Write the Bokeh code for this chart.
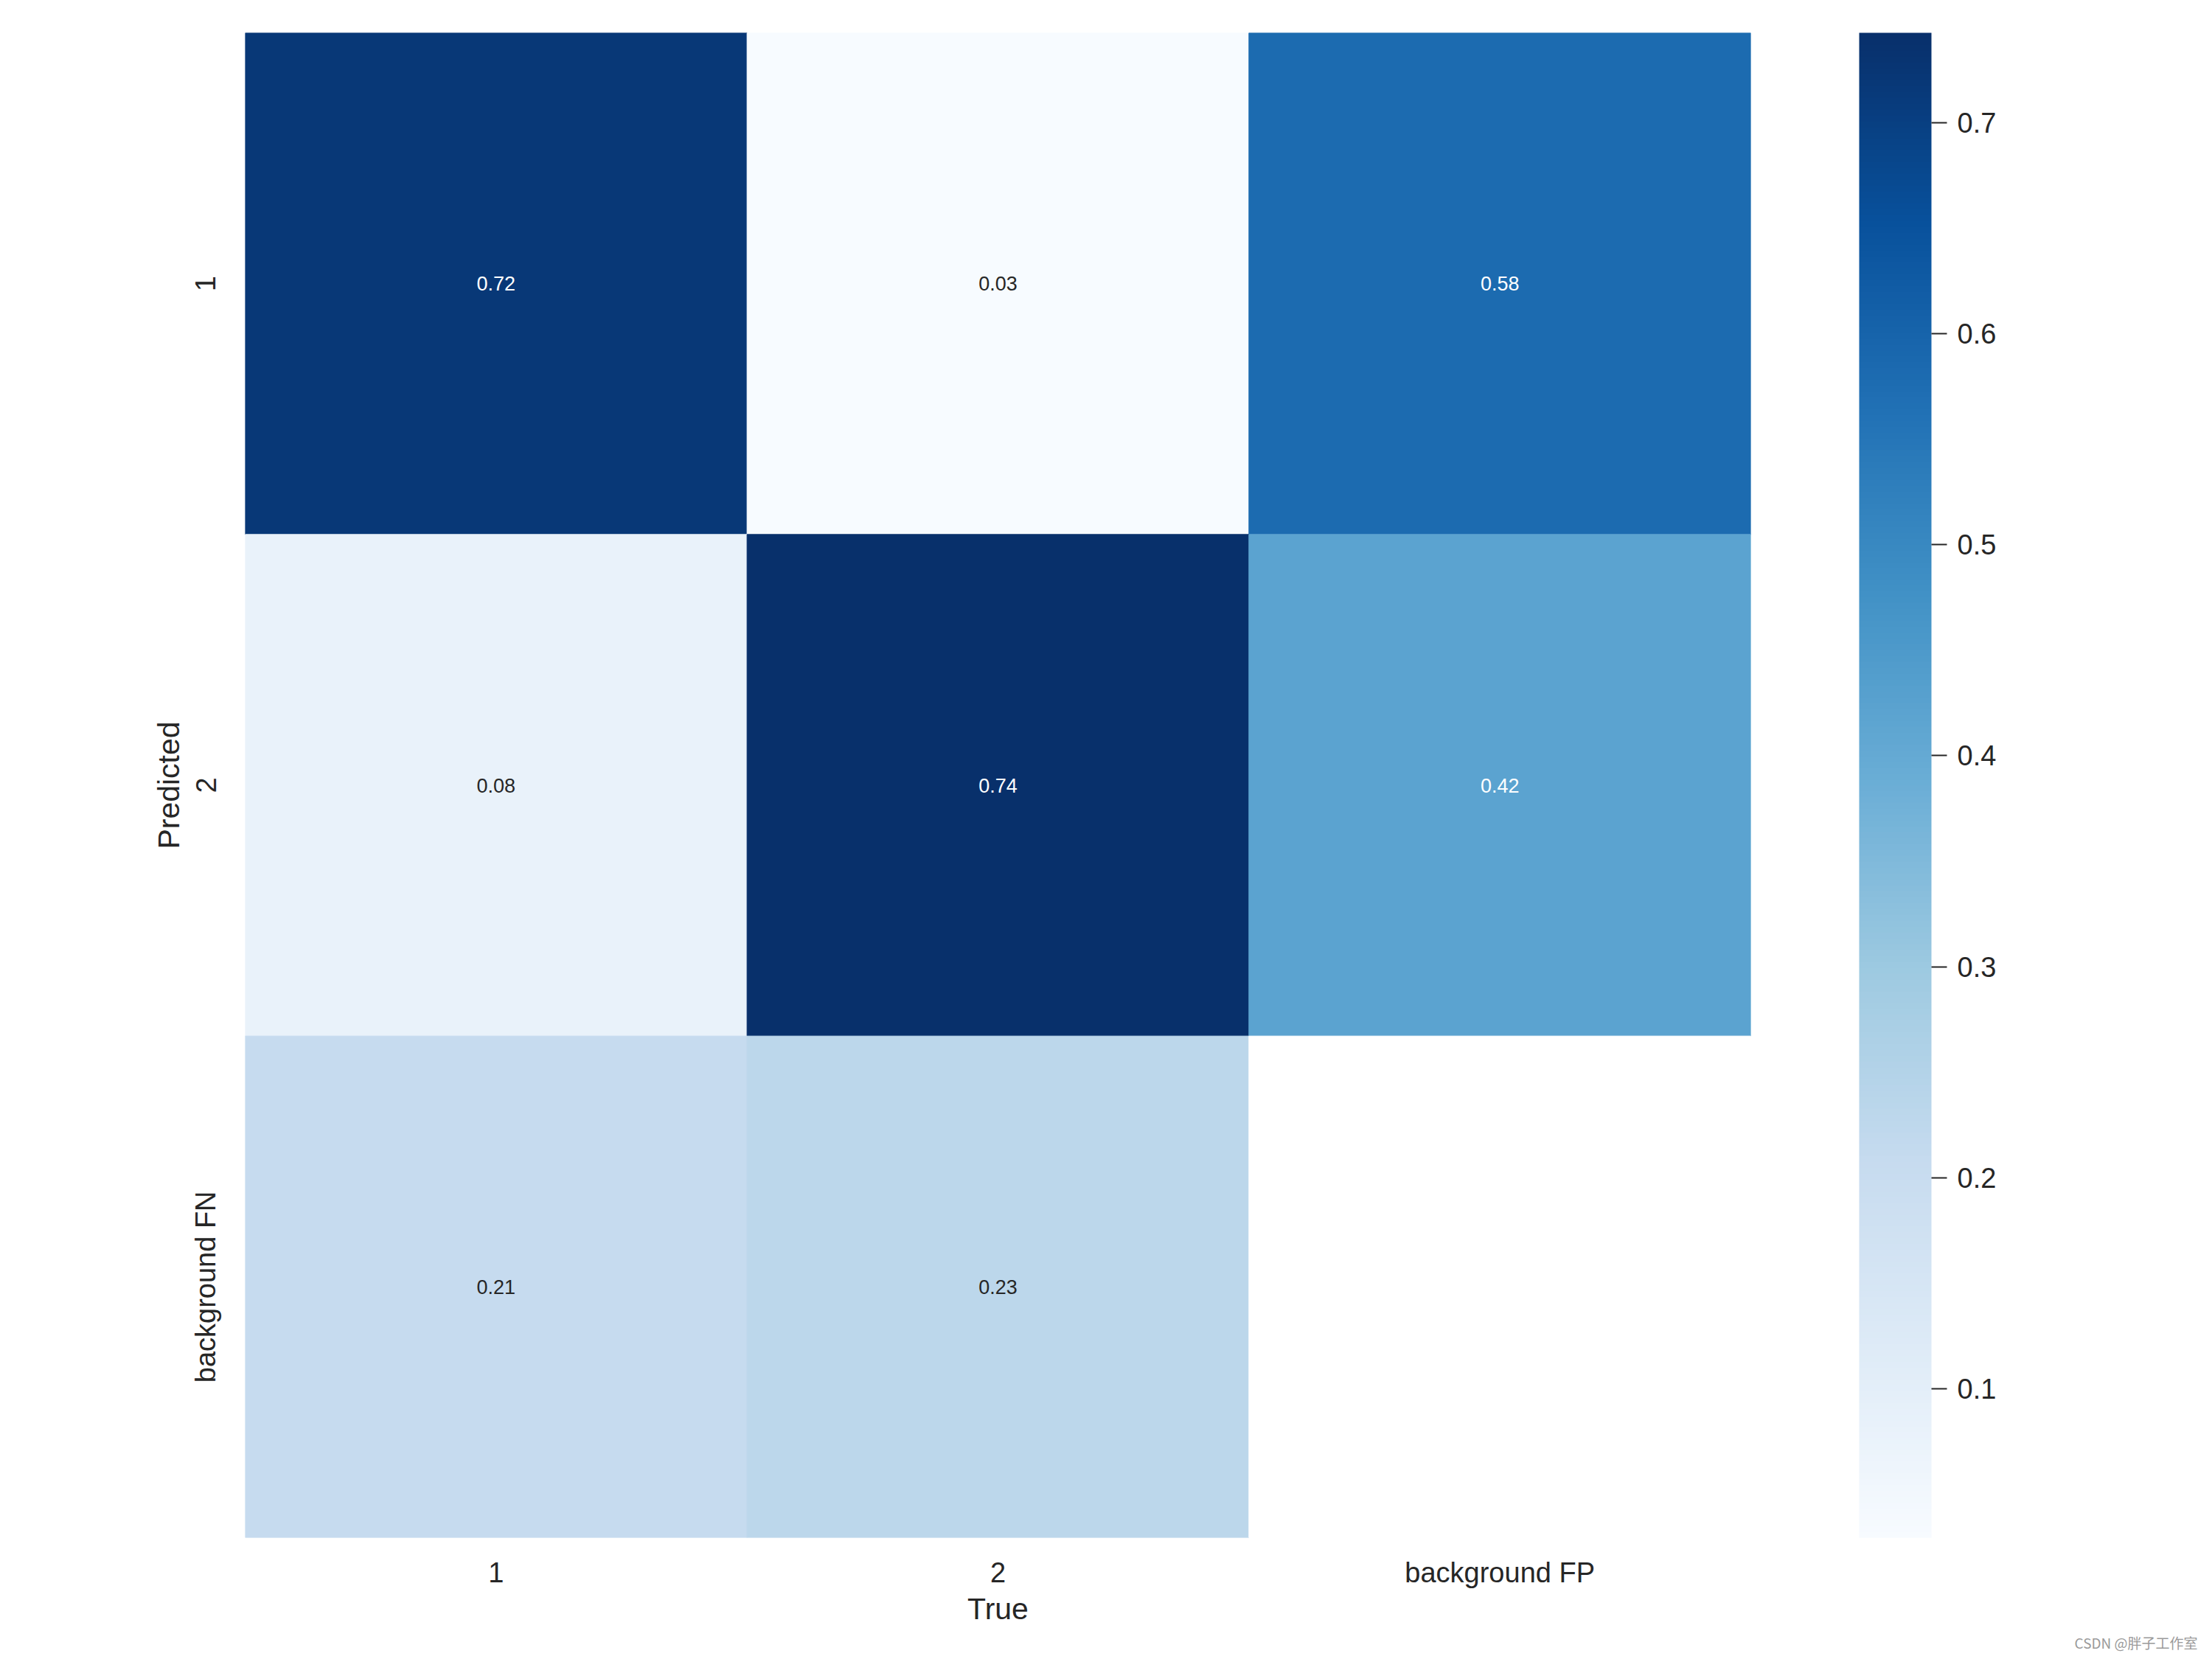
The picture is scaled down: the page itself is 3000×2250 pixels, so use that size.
import numpy as np
from bokeh.plotting import figure
from bokeh.models import ColumnDataSource, LinearColorMapper, ColorBar, FixedTicker, Range1d, Title
from bokeh.palettes import Blues256
from bokeh.embed import file_html
from bokeh.resources import INLINE
from bokeh.core.properties import value

# ---- data ----
true_labels = ["1", "2", "background FP"]
pred_labels = ["1", "2", "background FN"]
row_pred_1 = [0.72, 0.03, 0.58]
row_pred_2 = [0.08, 0.74, 0.42]
row_bg_fn = [0.21, 0.23, np.nan]
cbar_ticks = [0.1, 0.2, 0.3, 0.4, 0.5, 0.6, 0.7]
watermark = "CSDN @胖子工作室"

matrix = np.array([row_pred_1, row_pred_2, row_bg_fn], dtype=float)
vmin, vmax = 0.0294, 0.7425  # colour scale limits (data min / max)

xs, ys, vals, texts, tcolors = [], [], [], [], []
for r in range(3):
    for c in range(3):
        v = matrix[r, c]
        xs.append(c + 0.5)
        ys.append(r + 0.5)
        vals.append(v)
        texts.append("" if np.isnan(v) else f"{v:.2f}")
        tcolors.append("white" if (not np.isnan(v) and v > 0.36) else "#262626")

src = ColumnDataSource(dict(x=xs, y=ys, val=vals, label=texts, tcolor=tcolors))

pal = list(Blues256)
def _lum(h):
    return sum(int(h[i:i + 2], 16) for i in (1, 3, 5))
if _lum(pal[0]) < _lum(pal[-1]):
    pal = pal[::-1]
mapper = LinearColorMapper(palette=pal, low=vmin, high=vmax, nan_color="white")

FONT = "Liberation Sans"
TXT = "#262626"

FRAME_W, FRAME_H = 2042, 2041
p = figure(width=2984, height=2234, x_range=Range1d(0, 3), y_range=Range1d(3, 0),
           output_backend="svg", toolbar_location=None, tools="",
           frame_width=FRAME_W, frame_height=FRAME_H,
           min_border_left=332, min_border_top=44, min_border_bottom=149, min_border_right=610)
p.outline_line_color = None
p.grid.visible = False
p.background_fill_color = "white"
p.border_fill_color = "white"

p.rect(x="x", y="y", width=1, height=1, source=src,
       fill_color={"field": "val", "transform": mapper},
       line_color={"field": "val", "transform": mapper}, line_width=1)
p.text(x="x", y="y", text="label", source=src, text_color="tcolor",
       text_align="center", text_baseline="middle", text_font_size="27px",
       text_font=value(FONT))

p.xaxis.ticker = FixedTicker(ticks=[0.5, 1.5, 2.5])
p.xaxis.major_label_overrides = {0.5: true_labels[0], 1.5: true_labels[1], 2.5: true_labels[2]}
p.yaxis.ticker = FixedTicker(ticks=[0.5, 1.5, 2.5])
p.yaxis.major_label_overrides = {0.5: pred_labels[0], 1.5: pred_labels[1], 2.5: pred_labels[2]}
p.yaxis.major_label_orientation = "vertical"
p.xaxis.axis_label = "True"
p.yaxis.axis_label = "Predicted"
for ax in (p.xaxis, p.yaxis):
    ax.axis_line_color = None
    ax.major_tick_line_color = None
    ax.minor_tick_line_color = None
    ax.major_label_text_font_size = "38px"
    ax.major_label_text_color = TXT
    ax.major_label_text_font = FONT
    ax.axis_label_text_font = FONT
    ax.axis_label_text_font_size = "41px"
    ax.axis_label_text_font_style = "normal"
    ax.axis_label_text_color = TXT
    ax.axis_label_standoff = 4
p.xaxis.major_label_standoff = 20
p.xaxis.axis_label_standoff = 2
p.yaxis.major_label_standoff = 26

cb = ColorBar(color_mapper=mapper, ticker=FixedTicker(ticks=cbar_ticks), width=98, height=FRAME_H,
              location=(FRAME_W + 147, 0),
              padding=0, margin=0, major_tick_out=21, major_tick_in=0,
              major_tick_line_color=TXT, major_tick_line_width=2, label_standoff=14,
              major_label_text_font_size="38px", major_label_text_color=TXT,
              major_label_text_font=FONT, bar_line_color=None, border_line_color=None,
              background_fill_color=None, background_fill_alpha=0, minor_tick_line_color=None)
p.add_layout(cb)

wm = Title(text=watermark, align="right", offset=-606, text_font_size="19px",
           text_color="#9a9a9a", text_font="Noto Sans CJK SC", text_font_style="normal",
           standoff=8)
p.add_layout(wm, "below")

open("out.html", "w").write(file_html(p, INLINE))
